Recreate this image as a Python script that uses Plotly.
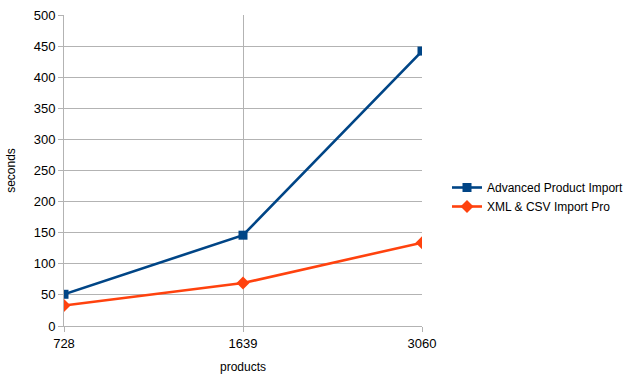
import plotly.graph_objects as go

categories = ["728", "1639", "3060"]
advanced = [51, 146, 442]
xmlcsv = [33, 69, 134]
y_ticks = [0, 50, 100, 150, 200, 250, 300, 350, 400, 450, 500]

fig = go.Figure()
fig.add_trace(go.Scatter(
    x=categories, y=advanced, name="Advanced Product Import",
    mode="lines+markers",
    line=dict(color="#004586", width=2.6),
    marker=dict(symbol="square", size=9, color="#004586"),
))
fig.add_trace(go.Scatter(
    x=categories, y=xmlcsv, name="XML & CSV Import Pro",
    mode="lines+markers",
    line=dict(color="#ff420e", width=2.6),
    marker=dict(symbol="diamond", size=10, color="#ff420e"),
))

axis_common = dict(
    showgrid=True, gridcolor="#b3b3b3", gridwidth=1,
    showline=True, linecolor="#b3b3b3", linewidth=1,
    ticks="outside", ticklen=5, tickcolor="#b3b3b3",
    tickfont=dict(family="Liberation Sans, Arial, sans-serif", size=13, color="#000000"),
    zeroline=False, automargin=False,
)

fig.update_layout(
    width=632, height=381,
    margin=dict(l=64, r=210, t=15, b=55, autoexpand=False),
    paper_bgcolor="white", plot_bgcolor="white",
    font=dict(family="Liberation Sans, Arial, sans-serif", size=12, color="#000000"),
    xaxis=dict(axis_common, type="category", range=[0, 2],
               title=dict(text="products", font=dict(size=12), standoff=13)),
    yaxis=dict(axis_common, range=[0, 500], tickvals=y_ticks,
               title=dict(text="seconds", font=dict(size=12), standoff=15)),
    legend=dict(xref="container", yref="container", x=447/632, y=(381-197)/381,
                xanchor="left", yanchor="middle",
                font=dict(size=12), tracegroupgap=0,
                bgcolor="rgba(0,0,0,0)"),
    showlegend=True,
)

fig.write_html("out.html")
